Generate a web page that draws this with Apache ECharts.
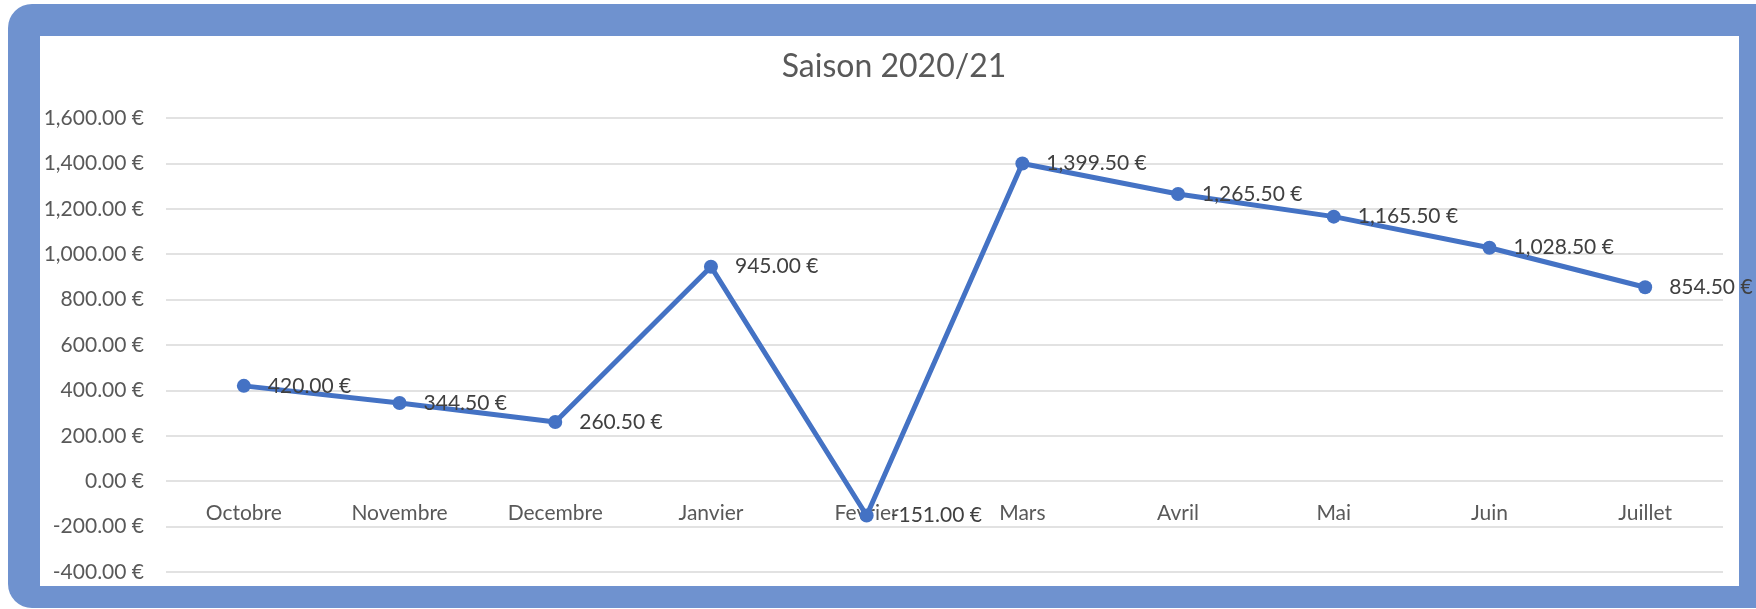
<!DOCTYPE html>
<html>
<head>
<meta charset="utf-8">
<script src="https://cdn.jsdelivr.net/npm/echarts@6/dist/echarts.min.js"></script>
<style>
  html, body { margin: 0; padding: 0; background: #fff; overflow: hidden; }
  #frame { position: absolute; left: 8px; top: 4px; width: 1780px; height: 604px; background: #6f92cf; border-radius: 24px; }
  #inner { position: absolute; left: 40px; top: 36px; width: 1699px; height: 550px; background: #fff; }
  #main { position: absolute; left: 0; top: 0; width: 1756px; height: 609px; }
</style>
</head>
<body>
<div id="frame"></div>
<div id="inner"></div>
<div id="main"></div>
<script>
const title = 'Saison 2020/21'
const months = ['Octobre', 'Novembre', 'Decembre', 'Janvier', 'Fevrier', 'Mars', 'Avril', 'Mai', 'Juin', 'Juillet']
const values = [420.00, 344.50, 260.50, 945.00, -151.00, 1399.50, 1265.50, 1165.50, 1028.50, 854.50]
const yMin = -400
const yMax = 1600

const euro = v => v.toLocaleString('en-US', { minimumFractionDigits: 2, maximumFractionDigits: 2 }) + ' €'

let chart = echarts.init(document.getElementById('main'))
chart.setOption({
  animation: false,
  textStyle: { fontFamily: 'Lato' },
  title: {
    text: title,
    left: 889,
    textAlign: 'center',
    top: 46,
    textStyle: { fontFamily: 'Lato', fontSize: 32, fontWeight: 'normal', color: '#595959' },
  },
  grid: { left: 166, right: 33, top: 118, bottom: 37 },
  xAxis: {
    type: 'category',
    data: months,
    axisLine: { show: false, onZero: false },
    axisTick: { show: false },
    axisLabel: { fontSize: 21, color: '#595959', margin: 21, fontFamily: 'Lato' },
  },
  yAxis: {
    type: 'value',
    min: yMin,
    max: yMax,
    interval: 200,
    axisLabel: { fontSize: 21, color: '#595959', margin: 22, fontFamily: 'Lato', formatter: euro },
    splitLine: { lineStyle: { color: '#d9d9d9', width: 1.5 } },
  },
  series: [{
    type: 'line',
    data: values,
    symbol: 'circle',
    symbolSize: 14,
    lineStyle: { color: '#4472c4', width: 5 },
    itemStyle: { color: '#4472c4' },
    label: {
      show: true,
      position: 'right',
      distance: 17,
      fontSize: 21,
      color: '#404040',
      fontFamily: 'Lato',
      formatter: p => euro(p.value),
    },
  }],
})

// move the category labels up to the zero line, like the original
let zeroY = chart.convertToPixel({ yAxisIndex: 0 }, 0)
let bottomY = chart.convertToPixel({ yAxisIndex: 0 }, yMin)
chart.setOption({ xAxis: { offset: zeroY - bottomY } })
</script>
</body>
</html>
